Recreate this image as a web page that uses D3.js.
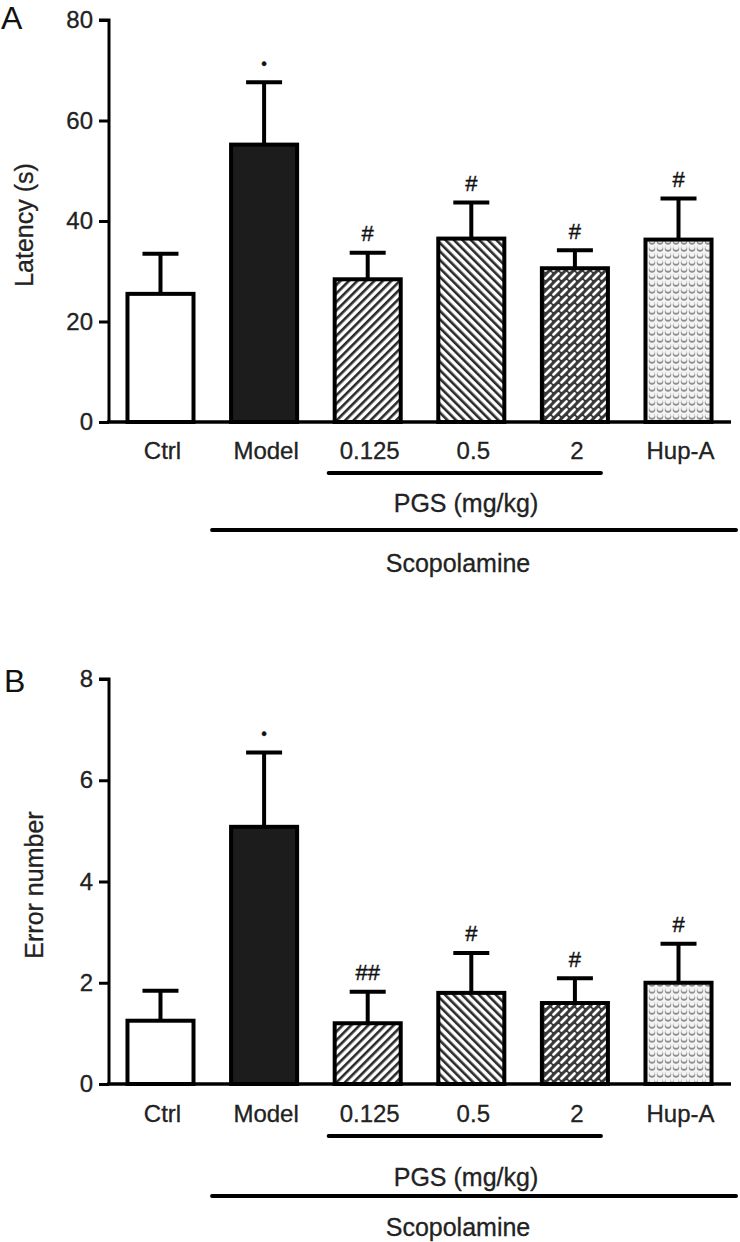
<!DOCTYPE html>
<html>
<head>
<meta charset="utf-8">
<script src="https://cdn.jsdelivr.net/npm/d3@7"></script>
<style>
  html, body { margin: 0; padding: 0; background: #fff; }
  svg { display: block; font-family: Arial, "Liberation Sans", Helvetica, sans-serif; }
</style>
</head>
<body>
<svg id="chart" width="740" height="1242"></svg>
<script>
// ---- data ----
const categories = ["Ctrl", "Model", "0.125", "0.5", "2", "Hup-A"];
const latencyMean = [25.5, 55.2, 28.4, 36.5, 30.6, 36.3];
const latencySEM  = [8.0, 12.4, 5.3, 7.2, 3.6, 8.2];
const latencySig  = ["", "•", "#", "#", "#", "#"];
const latencyTicks = [0, 20, 40, 60, 80];

const errorMean = [1.25, 5.08, 1.2, 1.8, 1.6, 2.0];
const errorSEM  = [0.59, 1.47, 0.62, 0.79, 0.49, 0.77];
const errorSig  = ["", "•", "##", "#", "#", "#"];
const errorTicks = [0, 2, 4, 6, 8];

const groupPGS = "PGS (mg/kg)";
const groupScop = "Scopolamine";

// ---- drawing ----
const svg = d3.select("#chart");
const defs = svg.append("defs");

// patterns
const p1 = defs.append("pattern").attr("id", "pFwd").attr("patternUnits", "userSpaceOnUse")
  .attr("width", 6).attr("height", 6).attr("patternTransform", "rotate(45)");
p1.append("rect").attr("width", 6).attr("height", 6).attr("fill", "#fff");
p1.append("rect").attr("x", 0).attr("y", 0).attr("width", 2.6).attr("height", 6).attr("fill", "#2a2a2a");

const p2 = defs.append("pattern").attr("id", "pBack").attr("patternUnits", "userSpaceOnUse")
  .attr("width", 6).attr("height", 6).attr("patternTransform", "rotate(-45)");
p2.append("rect").attr("width", 6).attr("height", 6).attr("fill", "#fff");
p2.append("rect").attr("x", 0).attr("y", 0).attr("width", 2.6).attr("height", 6).attr("fill", "#2a2a2a");

const p3 = defs.append("pattern").attr("id", "pBrick").attr("patternUnits", "userSpaceOnUse")
  .attr("width", 8).attr("height", 8);
p3.append("rect").attr("width", 8).attr("height", 8).attr("fill", "#3a3a3a");
p3.append("line").attr("x1", 1.5).attr("y1", 6.5).attr("x2", 6.5).attr("y2", 1.5)
  .attr("stroke", "#fff").attr("stroke-width", 2.6).attr("stroke-linecap", "round");

const p4 = defs.append("pattern").attr("id", "pDots").attr("patternUnits", "userSpaceOnUse")
  .attr("width", 8).attr("height", 7);
p4.append("rect").attr("width", 8).attr("height", 7).attr("fill", "#f4f4f4");
p4.append("circle").attr("cx", 4).attr("cy", 3.6).attr("r", 3.2).attr("fill", "#8e8e8e");
p4.append("circle").attr("cx", 4).attr("cy", 2.2).attr("r", 2.6).attr("fill", "#f4f4f4");

const fills = ["#ffffff", "#1c1c1c", "url(#pFwd)", "url(#pBack)", "url(#pBrick)", "url(#pDots)"];

const x = d3.scaleBand().domain(categories).range([109, 730]).paddingInner(0.324).paddingOuter(0.159);

function panel(cfg) {
  const g = svg.append("g");
  const y = d3.scaleLinear().domain([cfg.ticks[0], cfg.ticks[cfg.ticks.length - 1]]).range([cfg.y0, cfg.y1]);
  const data = categories.map((c, i) => ({ c, m: cfg.mean[i], s: cfg.sem[i], sig: cfg.sig[i], fill: fills[i] }));

  // error bars (upper only)
  g.selectAll(".eb").data(data).join("line")
    .attr("x1", d => x(d.c) + x.bandwidth() / 2).attr("x2", d => x(d.c) + x.bandwidth() / 2)
    .attr("y1", d => y(d.m)).attr("y2", d => y(d.m + d.s))
    .attr("stroke", "#000").attr("stroke-width", 4);
  g.selectAll(".cap").data(data).join("line")
    .attr("x1", d => x(d.c) + x.bandwidth() / 2 - 18).attr("x2", d => x(d.c) + x.bandwidth() / 2 + 18)
    .attr("y1", d => y(d.m + d.s)).attr("y2", d => y(d.m + d.s))
    .attr("stroke", "#000").attr("stroke-width", 4);

  // bars
  g.selectAll(".bar").data(data).join("rect")
    .attr("x", d => x(d.c) + 2).attr("width", x.bandwidth() - 4)
    .attr("y", d => y(d.m)).attr("height", d => y(0) - y(d.m))
    .attr("fill", d => d.fill).attr("stroke", "#000").attr("stroke-width", 4);

  // significance marks
  g.selectAll(".sig").data(data.filter(d => d.sig)).join("text")
    .attr("x", d => x(d.c) + x.bandwidth() / 2).attr("y", d => y(d.m + d.s) - 19)
    .attr("text-anchor", "middle").attr("dominant-baseline", "central")
    .attr("font-size", d => d.sig === "•" ? 16 : 22).attr("fill", "#111")
    .attr("stroke", "#111").attr("stroke-width", 0.4)
    .text(d => d.sig);

  // y axis
  const ya = g.append("g").attr("transform", "translate(109,0)")
    .call(d3.axisLeft(y).tickValues(cfg.ticks).tickSize(10).tickPadding(6));
  ya.select(".domain").attr("stroke-width", 3).attr("d", `M-10,${y(cfg.ticks[cfg.ticks.length-1])}H0V${y(0)}`);
  ya.selectAll(".tick line").attr("stroke-width", 3);
  ya.selectAll(".tick text").attr("font-size", 24).attr("fill", "#222")
    .attr("stroke", "#222").attr("stroke-width", 0.3)
    .attr("font-family", "Arial, 'Liberation Sans', sans-serif");

  // x baseline
  g.append("line").attr("x1", 107).attr("x2", 731).attr("y1", y(0)).attr("y2", y(0))
    .attr("stroke", "#000").attr("stroke-width", 3.5);

  // category labels
  g.selectAll(".cl").data(categories).join("text")
    .attr("x", c => x(c) + x.bandwidth() / 2 + 2).attr("y", y(0) + cfg.labOff)
    .attr("text-anchor", "middle").attr("dominant-baseline", "central")
    .attr("font-size", 24).attr("fill", "#222").attr("stroke", "#222").attr("stroke-width", 0.3)
    .text(c => c);

  // group lines
  g.append("line").attr("x1", x("0.125") - 4).attr("x2", x("2") + x.bandwidth() - 9)
    .attr("y1", y(0) + cfg.pgsLine).attr("y2", y(0) + cfg.pgsLine)
    .attr("stroke", "#000").attr("stroke-width", 4).attr("stroke-linecap", "round");
  g.append("text").attr("x", 466).attr("y", y(0) + cfg.pgsText)
    .attr("text-anchor", "middle").attr("dominant-baseline", "central")
    .attr("font-size", 25).attr("fill", "#222").attr("stroke", "#222").attr("stroke-width", 0.3)
    .text(groupPGS);
  g.append("line").attr("x1", x("Model") - 17).attr("x2", 736)
    .attr("y1", y(0) + cfg.scopLine).attr("y2", y(0) + cfg.scopLine)
    .attr("stroke", "#000").attr("stroke-width", 4).attr("stroke-linecap", "round");
  g.append("text").attr("x", 458).attr("y", y(0) + cfg.scopText)
    .attr("text-anchor", "middle").attr("dominant-baseline", "central")
    .attr("font-size", 25).attr("fill", "#222").attr("stroke", "#222").attr("stroke-width", 0.3)
    .text(groupScop);

  // y title
  g.append("text").attr("transform", `translate(${cfg.titleX},${cfg.titleY}) rotate(-90)`)
    .attr("text-anchor", "middle").attr("dominant-baseline", "central")
    .attr("font-size", 25).attr("fill", "#222").attr("stroke", "#222").attr("stroke-width", 0.3)
    .text(cfg.title);

  // panel letter
  g.append("text").attr("x", cfg.letterX).attr("y", cfg.letterY)
    .attr("font-size", 32).attr("fill", "#111").text(cfg.letter);
}

panel({ mean: latencyMean, sem: latencySEM, sig: latencySig, ticks: latencyTicks,
  y0: 422, y1: 20, labOff: 28, pgsLine: 51, pgsText: 81, scopLine: 108, scopText: 141,
  title: "Latency (s)", titleX: 24, titleY: 225, letter: "A", letterX: 1, letterY: 29 });

panel({ mean: errorMean, sem: errorSEM, sig: errorSig, ticks: errorTicks,
  y0: 1084, y1: 679, labOff: 29, pgsLine: 52, pgsText: 93, scopLine: 112, scopText: 143,
  title: "Error number", titleX: 34, titleY: 885, letter: "B", letterX: 4, letterY: 692 });
</script>
</body>
</html>
